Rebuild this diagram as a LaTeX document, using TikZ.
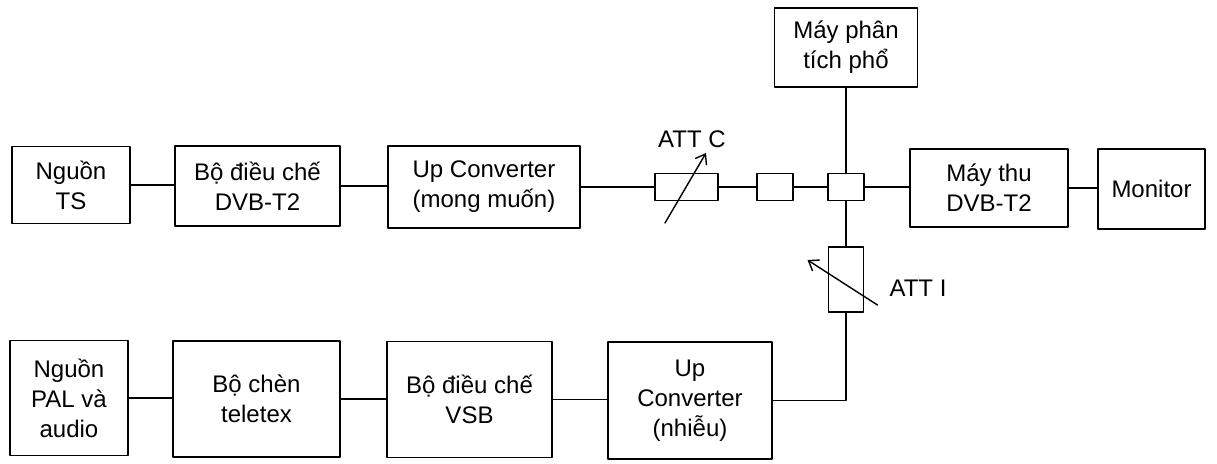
\documentclass[tikz,border=0pt]{standalone}
\usepackage{fontspec}
\setmainfont{Liberation Sans}
\usetikzlibrary{arrows.meta}

\begin{document}
\begin{tikzpicture}[line cap=round,line join=round,>={Straight Barb[length=9pt,width=13pt]},x=1pt,y=-1pt,
	blk/.style={draw,line width=1.7pt,align=center,inner sep=0pt,font=\fontsize{24}{30}\selectfont},
	wire/.style={line width=1.4pt},
	lbl/.style={font=\fontsize{24}{30}\selectfont}]
			\useasboundingbox (0,0) rectangle (1217,463);
			% top row
			\node[blk,minimum width=118pt,minimum height=77pt] (ts) at (71,185) {Nguồn\\TS};
			\node[blk,minimum width=165pt,minimum height=80pt] (modt) at (257.5,186) {Bộ điều chế\\DVB-T2};
			\node[blk,minimum width=192pt,minimum height=82pt] (upc) at (484,187) {Up Converter\\(mong muốn)};
			\node[blk,minimum width=63pt,minimum height=27pt] (attc) at (686.5,187) {};
			\node[blk,minimum width=36pt,minimum height=27pt] (pad) at (775,187) {};
			\node[blk,minimum width=36pt,minimum height=27pt] (cpl) at (846,187) {};
			\node[blk,minimum width=158pt,minimum height=78pt] (rx) at (989,188) {Máy thu\\DVB-T2};
			\node[blk,minimum width=107pt,minimum height=80pt] (mon) at (1151.5,189) {Monitor};
			\node[blk,minimum width=143pt,minimum height=79pt] (spa) at (846,47.5) {Máy phân\\tích phổ};
			\node[blk,minimum width=35pt,minimum height=65pt] (atti) at (846,279.5) {};
			% bottom row
			\node[blk,minimum width=118pt,minimum height=115pt] (pal) at (69,398) {Nguồn\\PAL và\\audio};
			\node[blk,minimum width=167pt,minimum height=116pt] (ttx) at (256.5,399) {Bộ chèn\\teletex};
			\node[blk,minimum width=165pt,minimum height=116pt] (vsb) at (469.5,399.5) {Bộ điều chế\\VSB};
			\node[blk,minimum width=164pt,minimum height=117pt] (upn) at (690,400.5) {Up\\Converter\\(nhiễu)};
			% labels
			\node[lbl] (lattc) at (692,139) {ATT C};
			\node[lbl] (latti) at (918,288) {ATT I};
			% wires
			\draw[wire] (ts.east) -- (modt.west |- ts.east);
			\draw[wire] (modt.east) -- (upc.west |- modt.east);
			\draw[wire] (upc.east) -- (attc.west);
			\draw[wire] (attc.east) -- (pad.west);
			\draw[wire] (pad.east) -- (cpl.west);
			\draw[wire] (cpl.east) -- (rx.west |- cpl.east);
			\draw[wire] (rx.east) -- (mon.west |- rx.east);
			\draw[wire] (spa.south) -- (cpl.north);
			\draw[wire] (cpl.south) -- (atti.north);
			\draw[wire] (pal.east) -- (ttx.west |- pal.east);
			\draw[wire] (ttx.east) -- (vsb.west |- ttx.east);
			\draw[wire] (vsb.east) -- (upn.west |- vsb.east);
			\draw[wire] (upn.east) -| (atti.south);
			% variable attenuators
			\draw[wire,->] ([shift={(-21.5,36)}]attc.center) -- ([shift={(19.5,-34)}]attc.center);
			\draw[wire,->] ([shift={(31.5,25.5)}]atti.center) -- ([shift={(-38.5,-19.5)}]atti.center);
\end{tikzpicture}
\end{document}
